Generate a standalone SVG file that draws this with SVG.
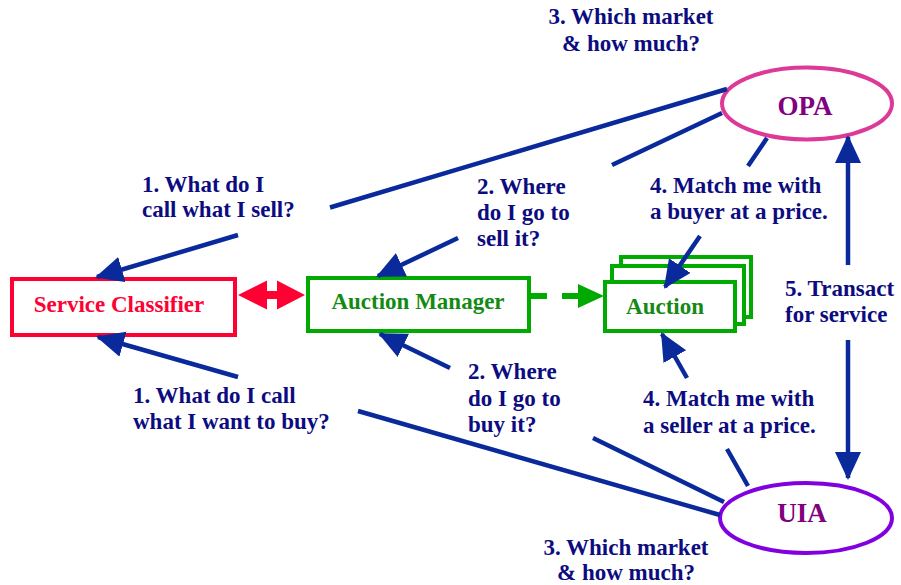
<svg xmlns="http://www.w3.org/2000/svg" width="901" height="585" viewBox="0 0 901 585">
<style>
.lbl{font-family:"Liberation Serif","Times New Roman",serif;font-weight:bold;font-size:23px;fill:#0c0c80}
.node{font-family:"Liberation Serif","Times New Roman",serif;font-weight:bold;font-size:23px}
.conn{fill:none;stroke:#0a2a9c;stroke-width:4.5}
.gbox{fill:#fff;stroke:#00aa00;stroke-width:4}
</style>
<defs>
<marker id="ah" markerUnits="userSpaceOnUse" markerWidth="32" markerHeight="32" refX="26" refY="13" orient="auto-start-reverse">
<path d="M0,0 L28,13 L0,26 z" fill="#0a2a9c"/>
</marker>
</defs>
<rect width="901" height="585" fill="#fff"/>

<g id="service-classifier">
<rect x="12" y="279" width="223" height="56" fill="#fff" stroke="#ff0033" stroke-width="4"/>
<text class="node" x="119" y="312" text-anchor="middle" fill="#ff0033">Service Classifier</text>
</g>

<g id="auction-manager">
<rect class="gbox" x="308" y="278" width="221" height="53"/>
<text class="node" x="418" y="309" text-anchor="middle" fill="#138a13">Auction Manager</text>
</g>

<g id="auction">
<rect class="gbox" x="621" y="257" width="130" height="60"/>
<rect class="gbox" x="612" y="266" width="132" height="58"/>
<rect class="gbox" x="605" y="282" width="130" height="49"/>
<text class="node" x="665" y="314" text-anchor="middle" fill="#138a13">Auction</text>
</g>

<g id="opa">
<ellipse cx="807" cy="103.5" rx="85" ry="36" fill="#fff" stroke="#dc3a96" stroke-width="4"/>
<text x="805" y="115" text-anchor="middle" font-family="Liberation Serif, serif" font-weight="bold" font-size="27" fill="#800080">OPA</text>
</g>

<g id="uia">
<ellipse cx="806" cy="518" rx="86" ry="35" fill="#fff" stroke="#8000e0" stroke-width="4"/>
<text x="802" y="522" text-anchor="middle" font-family="Liberation Serif, serif" font-weight="bold" font-size="27" fill="#800080">UIA</text>
</g>

<g id="connectors">
<path class="conn" d="M727,89 L330,207.5 M238,235 L97,277" marker-end="url(#ah)"/>
<path class="conn" d="M722,113 L612,165 M458,238 L378,276" marker-end="url(#ah)"/>
<path class="conn" d="M767,138 L748,166 M700,236 L665,287" marker-end="url(#ah)"/>
<path class="conn" d="M720,515 L358,411 M238,377 L98,337" marker-end="url(#ah)"/>
<path class="conn" d="M724,502 L593,438 M450,368 L380,334" marker-end="url(#ah)"/>
<path class="conn" d="M748,486 L727,449 M687,378 L662,334" marker-end="url(#ah)"/>
<path class="conn" d="M848,137 L848,265 M848,340 L848,478" marker-start="url(#ah)" marker-end="url(#ah)"/>
<path d="M531,296 L578,296" fill="none" stroke="#00aa00" stroke-width="6" stroke-dasharray="16 15"/>
<polygon points="578,284 604,296 578,308" fill="#00aa00"/>
<polygon points="238,295 267,280.5 267,291 277,291 277,280.5 305,295 277,309.5 277,299 267,299 267,309.5" fill="#ff0033"/>
</g>

<g id="labels">
<text class="lbl" x="631" y="24" text-anchor="middle">3. Which market</text>
<text class="lbl" x="631" y="51" text-anchor="middle">&amp; how much?</text>
<text class="lbl" x="626" y="555" text-anchor="middle">3. Which market</text>
<text class="lbl" x="626" y="580" text-anchor="middle">&amp; how much?</text>
<text class="lbl" x="142" y="192">1. What do I</text>
<text class="lbl" x="142" y="217">call what I sell?</text>
<text class="lbl" x="477" y="194">2. Where</text>
<text class="lbl" x="477" y="220">do I go to</text>
<text class="lbl" x="477" y="246">sell it?</text>
<text class="lbl" x="650" y="193">4. Match me with</text>
<text class="lbl" x="650" y="219">a buyer at a price.</text>
<text class="lbl" x="785" y="296">5. Transact</text>
<text class="lbl" x="785" y="322">for service</text>
<text class="lbl" x="133" y="403">1. What do I call</text>
<text class="lbl" x="133" y="429">what I want to buy?</text>
<text class="lbl" x="468" y="379">2. Where</text>
<text class="lbl" x="468" y="406">do I go to</text>
<text class="lbl" x="468" y="432">buy it?</text>
<text class="lbl" x="643" y="406">4. Match me with</text>
<text class="lbl" x="643" y="433">a seller at a price.</text>
</g>
</svg>
